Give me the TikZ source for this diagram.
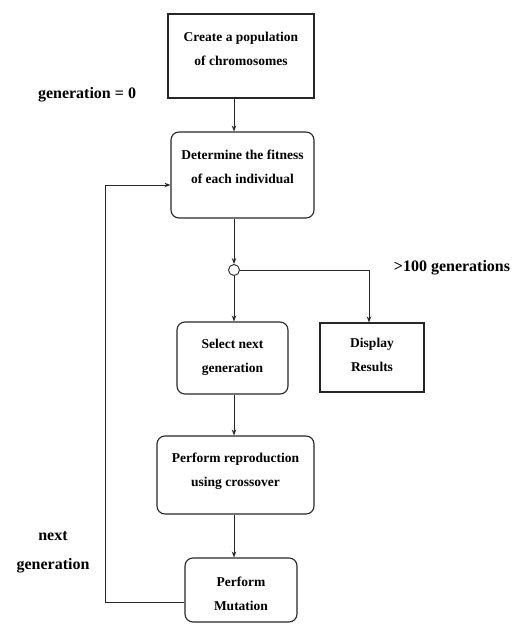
\documentclass[tikz,border=0pt]{standalone}
\usepackage{fontspec}
\setmainfont{Liberation Serif}
\usetikzlibrary{arrows.meta}
\begin{document}
\begin{tikzpicture}[x=1pt,y=-1pt,
  box/.style={draw=black!85,line width=1.1pt,inner sep=0pt},
  rbox/.style={box,rounded corners=8pt},
  txt/.style={align=center,inner sep=0pt,font=\fontsize{13.5}{24}\selectfont\bfseries},
  lbl/.style={align=center,inner sep=0pt,font=\fontsize{16}{29}\selectfont\bfseries},
  arr/.style={draw=black!85,line width=0.9pt,-{Stealth[length=6pt,width=4.5pt]}}]
\useasboundingbox (0,0) rectangle (515,627);
\node[box,minimum width=146pt,minimum height=84pt] (pop) at (241,56) {};
\node[txt] (popt) at ([yshift=7pt]pop.center) {Create a population\\of chromosomes};
\node[lbl] (gen0) at (87,95) {generation = 0};
\node[rbox,minimum width=143pt,minimum height=86pt] (fit) at (242.5,175) {};
\node[txt] (fitt) at ([yshift=8.5pt]fit.center) {Determine the fitness\\of each individual};
\node[draw=black!85,circle,line width=0.9pt,fill=white,minimum size=11pt,inner sep=0pt] (dec) at (234,270) {};
\node[lbl] (gt) at (452,268) {>100 generations};
\node[rbox,minimum width=111pt,minimum height=72pt] (sel) at (232.5,358) {};
\node[txt] (selt) at ([yshift=1pt]sel.center) {Select next\\generation};
\node[box,minimum width=104pt,minimum height=69pt] (disp) at (372,357.5) {};
\node[txt] (dispt) at ([yshift=2.5pt]disp.center) {Display\\Results};
\node[rbox,minimum width=157pt,minimum height=78pt] (rep) at (235.5,475) {};
\node[txt] (rept) at ([yshift=3.5pt]rep.center) {Perform reproduction\\using crossover};
\node[rbox,minimum width=112pt,minimum height=64pt] (mut) at (241,590) {};
\node[txt] (mutt) at ([yshift=-3.5pt]mut.center) {Perform\\Mutation};
\node[lbl] (ng) at (53,552) {next\\generation};
\coordinate (dx) at (369,270);
\coordinate (loopb) at (105,602);
\coordinate (loopt) at (105,185);
\draw[arr] (pop.south -| dec) -- (fit.north -| dec);
\draw[arr] (fit.south -| dec) -- (dec.north);
\draw[arr] (dec.south) -- (sel.north -| dec);
\draw[arr] (dec.east) -- (dx) -- (disp.north -| dx);
\draw[arr] (sel.south -| dec) -- (rep.north -| dec);
\draw[arr] (rep.south -| dec) -- (mut.north -| dec);
\draw[arr] (mut.west |- loopb) -- (loopb) -- (loopt) -- (fit.west |- loopt);
\end{tikzpicture}
\end{document}
